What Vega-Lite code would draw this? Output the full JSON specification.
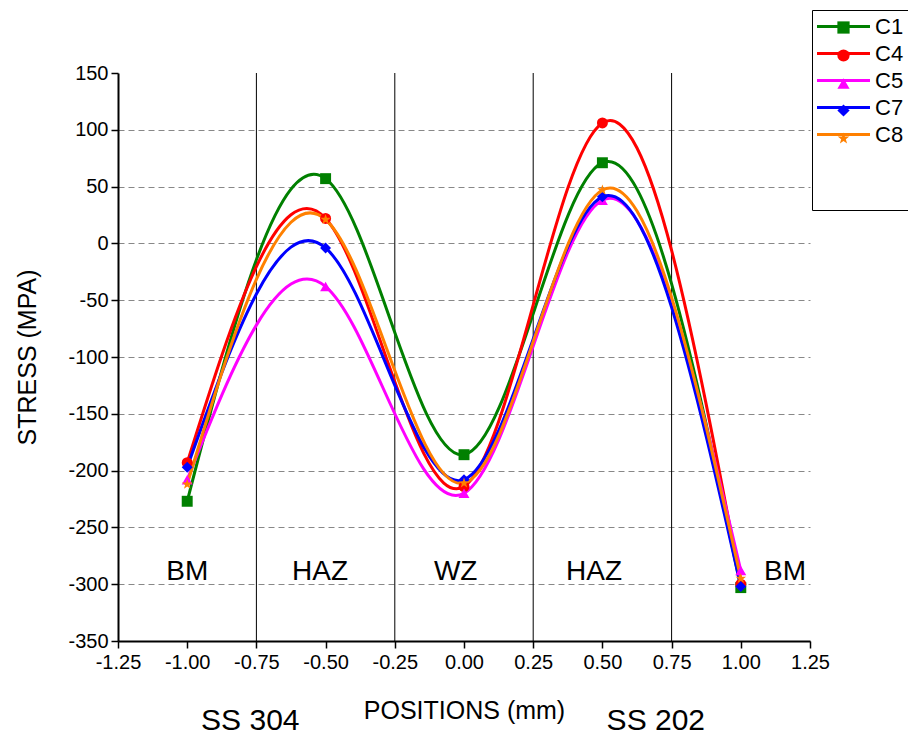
{
  "$schema": "https://vega.github.io/schema/vega-lite/v6.json",
  "width": 692,
  "height": 568,
  "autosize": {"type": "none"},
  "padding": {"left": 118, "top": 73, "right": 98, "bottom": 97},
  "config": {"font": "Liberation Sans", "view": {"stroke": null}},
  "datasets": {
    "curves": [
      {"series": "C1", "curve": "C1", "x": -1.0, "y": -227},
      {"series": "C1", "curve": "C1", "x": -0.5, "y": 57},
      {"series": "C1", "curve": "C1", "x": 0.0, "y": -186},
      {"series": "C1", "curve": "C1", "x": 0.5, "y": 71},
      {"series": "C1", "curve": "C1", "x": 1.0, "y": -303},
      {"series": "C4", "curve": "C4", "x": -1.0, "y": -193},
      {"series": "C4", "curve": "C4", "x": -0.5, "y": 22},
      {"series": "C4", "curve": "C4", "x": 0.0, "y": -214},
      {"series": "C4", "curve": "C4", "x": 0.5, "y": 106},
      {"series": "C4", "curve": "C4", "x": 1.0, "y": -300},
      {"series": "C5", "curve": "C5", "x": -1.0, "y": -208},
      {"series": "C5", "curve": "C5", "x": -0.5, "y": -38},
      {"series": "C5", "curve": "C5", "x": 0.0, "y": -220},
      {"series": "C5", "curve": "C5", "x": 0.5, "y": 38},
      {"series": "C5", "curve": "C5", "x": 1.0, "y": -288},
      {"series": "C7", "curve": "C7", "x": -1.0, "y": -197},
      {"series": "C7", "curve": "C7", "x": -0.5, "y": -4},
      {"series": "C7", "curve": "C7", "x": 0.0, "y": -208},
      {"series": "C7", "curve": "C7", "x": 0.5, "y": 41},
      {"series": "C7", "curve": "C7", "x": 1.0, "y": -302},
      {"series": "C8", "curve": "C8", "x": -1.0, "y": -212},
      {"series": "C8", "curve": "C8", "x": -0.5, "y": 21},
      {"series": "C8", "curve": "C8", "x": 0.0, "y": -211},
      {"series": "C8", "curve": "C8", "x": 0.5, "y": 47},
      {"series": "C8", "curve": "C8", "x": 1.0, "y": -295}
    ],
    "bounds": [{"x": -0.75}, {"x": -0.25}, {"x": 0.25}, {"x": 0.75}],
    "regions": [
      {"t": "BM", "x": -1.0, "y": -289},
      {"t": "HAZ", "x": -0.52, "y": -289},
      {"t": "WZ", "x": -0.03, "y": -289},
      {"t": "HAZ", "x": 0.47, "y": -289},
      {"t": "BM", "x": 1.16, "y": -289}
    ],
    "materials": [
      {"t": "SS 304", "x": -0.772, "y": -420},
      {"t": "SS 202", "x": 0.693, "y": -420}
    ]
  },
  "layer": [
    {
      "data": {"name": "bounds"},
      "mark": {"type": "rule", "color": "black", "strokeWidth": 1},
      "encoding": {
        "x": {
          "field": "x", "type": "quantitative",
          "scale": {"domain": [-1.25, 1.25], "nice": false, "zero": false},
          "title": "POSITIONS (mm)",
          "axis": {
            "values": [-1.25, -1.125, -1.0, -0.875, -0.75, -0.625, -0.5, -0.375, -0.25, -0.125, 0, 0.125, 0.25, 0.375, 0.5, 0.625, 0.75, 0.875, 1.0, 1.125, 1.25],
            "labelExpr": "abs(datum.value*4 - round(datum.value*4)) < 0.001 ? replace(format(datum.value, '.2f'), '\u2212', '-') : ''",
            "tickSize": {"condition": {"test": "abs(datum.value*4 - round(datum.value*4)) < 0.001", "value": 7}, "value": 4},
            "tickColor": "black", "tickWidth": 1.5,
            "domainColor": "black", "domainWidth": 2,
            "labelFontSize": 20, "labelColor": "black", "labelPadding": 4, "labelOverlap": false, "labelFlush": false,
            "titleFontSize": 25, "titleFontWeight": "normal", "titleColor": "black", "titlePadding": 26,
            "grid": false
          }
        }
      }
    },
    {
      "data": {"name": "curves"},
      "mark": {"type": "line", "interpolate": "natural", "strokeWidth": 3},
      "encoding": {
        "x": {"field": "x", "type": "quantitative"},
        "y": {
          "field": "y", "type": "quantitative",
          "scale": {"domain": [-350, 150], "nice": false, "zero": false},
          "title": "STRESS (MPA)",
          "axis": {
            "values": [-350, -337.5, -325, -312.5, -300, -287.5, -275, -262.5, -250, -237.5, -225, -212.5, -200, -187.5, -175, -162.5, -150, -137.5, -125, -112.5, -100, -87.5, -75, -62.5, -50, -37.5, -25, -12.5, 0, 12.5, 25, 37.5, 50, 62.5, 75, 87.5, 100, 112.5, 125, 137.5, 150],
            "labelExpr": "datum.value % 25 == 0 ? replace(format(datum.value, 'd'), '\u2212', '-') : ''",
            "tickSize": {"condition": {"test": "datum.value % 25 == 0", "value": 7}, "value": 4},
            "tickColor": "black", "tickWidth": 1.5,
            "domainColor": "black", "domainWidth": 2,
            "labelFontSize": 20, "labelColor": "black", "labelPadding": 3, "labelOverlap": false, "labelFlush": false,
            "titleFontSize": 25, "titleFontWeight": "normal", "titleColor": "black", "titlePadding": 27,
            "grid": true,
            "gridDash": [6, 4], "gridColor": "#888888", "gridWidth": 1,
            "gridOpacity": {"condition": {"test": "datum.value % 25 == 0 && datum.value < 150", "value": 1}, "value": 0}
          }
        },
        "color": {
          "field": "series", "type": "nominal",
          "scale": {"domain": ["C1", "C4", "C5", "C7", "C8"], "range": ["#008000", "#ff0000", "#ff00ff", "#0000ff", "#ff8000"]},
          "legend": {
            "orient": "none", "legendX": 694, "legendY": -63,
            "title": " ", "titleOrient": "bottom", "titleFontSize": 10, "titlePadding": 49,
            "strokeColor": "black", "padding": 5,
            "labelFontSize": 22, "labelColor": "black",
            "symbolType": "M-2.65,0H2.65", "symbolSize": 400, "symbolOffset": 15, "labelOffset": 20, "rowPadding": 4,
            "symbolStrokeWidth": 3
          }
        }
      }
    },
    {
      "data": {"name": "curves"},
      "mark": {"type": "point", "filled": true, "size": 120, "opacity": 1},
      "encoding": {
        "x": {"field": "x", "type": "quantitative"},
        "y": {"field": "y", "type": "quantitative"},
        "fill": {
          "field": "curve", "type": "nominal",
          "scale": {"range": ["#008000", "#ff0000", "#ff00ff", "#0000ff", "#ff8000"]},
          "legend": {
            "orient": "none", "legendX": 694, "legendY": -57,
            "title": null, "padding": 5,
            "labelExpr": "''", "labelFontSize": 1,
            "symbolSize": 150, "symbolOffset": 20, "labelOffset": 0, "rowPadding": 15,
            "symbolStrokeWidth": 0
          }
        },
        "shape": {
          "field": "curve", "type": "nominal",
          "scale": {"range": ["square", "circle", "triangle-up", "diamond", "M0,-1L0.235,-0.324L0.951,-0.309L0.380,0.124L0.588,0.809L0,0.4L-0.588,0.809L-0.380,0.124L-0.951,-0.309L-0.235,-0.324Z"]},
          "legend": {
            "orient": "none", "legendX": 694, "legendY": -57,
            "title": null, "padding": 5,
            "labelExpr": "''", "labelFontSize": 1,
            "symbolSize": 150, "symbolOffset": 20, "labelOffset": 0, "rowPadding": 15,
            "symbolStrokeWidth": 0
          }
        }
      }
    },
    {
      "data": {"name": "regions"},
      "mark": {"type": "text", "fontSize": 28, "color": "black", "baseline": "middle", "align": "center"},
      "encoding": {
        "x": {"field": "x", "type": "quantitative"},
        "y": {"field": "y", "type": "quantitative"},
        "text": {"field": "t"}
      }
    },
    {
      "data": {"name": "materials"},
      "mark": {"type": "text", "fontSize": 30, "color": "black", "baseline": "middle", "align": "center"},
      "encoding": {
        "x": {"field": "x", "type": "quantitative"},
        "y": {"field": "y", "type": "quantitative"},
        "text": {"field": "t"}
      }
    }
  ]
}
